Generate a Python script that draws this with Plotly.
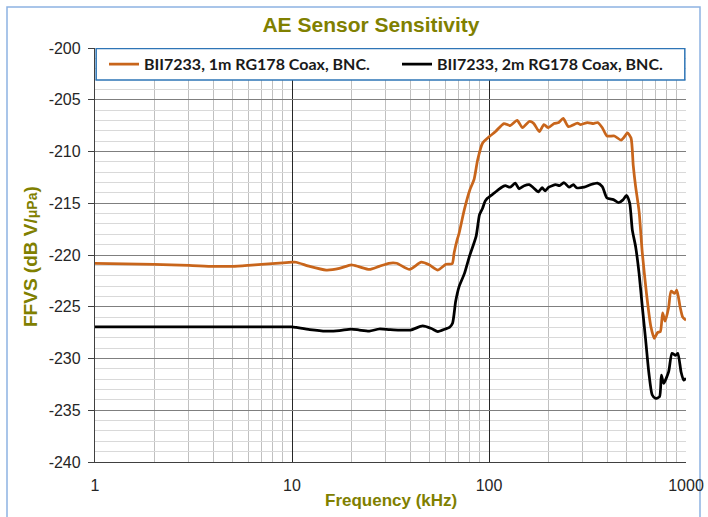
import plotly.graph_objects as go

# ---------------- data ----------------
series_names = ["BII7233, 1m RG178 Coax, BNC.", "BII7233, 2m RG178 Coax, BNC."]

freq_1m = [1, 2, 3, 4, 5, 6, 7, 9, 10, 10.5,
           12.3, 14.9, 17.4, 20, 22, 24.7, 27.7, 31, 34, 39.5,
           45.3, 49.7, 55, 60.5, 65, 66.5, 69, 70.5, 75, 80,
           84, 87.6, 92.7, 100.5, 108, 119, 128, 139, 148, 160,
           168, 180, 190, 200, 214, 226, 238, 253, 281, 292,
           316, 339, 356, 376, 397, 433, 468, 486, 505, 526,
           540, 555, 578, 600, 630, 663, 690, 717, 741, 761,
           783, 816, 840, 876, 898, 933, 962, 1000]
ffvs_1m = [-220.8, -220.9, -221.0, -221.1, -221.1, -221.0, -220.9, -220.75, -220.7, -220.7,
           -221.1, -221.45, -221.3, -220.95, -221.15, -221.4, -221.1, -220.8, -220.8, -221.4,
           -220.7, -220.95, -221.45, -220.9, -220.85, -219.8, -218.5, -217.9, -215.6, -213.7,
           -212.7, -210.8, -209.2, -208.55, -208.07, -207.3, -207.5, -207.0, -207.7, -207.1,
           -207.25, -208.07, -207.4, -207.7, -207.3, -207.2, -206.8, -207.6, -207.25, -207.4,
           -207.2, -207.3, -207.2, -207.7, -208.5, -208.5, -208.9, -208.6, -208.2, -208.7,
           -211.4, -213.4, -215.8, -219.8, -223.7, -226.9, -228.05, -227.5, -227.4, -225.6,
           -226.4, -225.1, -223.5, -223.7, -223.4, -225.0, -226.0, -226.3]

freq_2m = [1, 5, 10, 10.5, 12.3, 14.9, 17.4, 20, 22, 24.7,
           27.7, 31, 35, 40, 46, 51, 55, 60, 63, 65.3,
           67.7, 70.5, 75, 79.5, 86, 89.5, 92.7, 95.6, 98.4, 106.6,
           115, 121, 128, 136, 142, 151, 160, 168, 178, 186,
           193, 201, 218, 228, 240, 255, 268, 278, 304, 328,
           355, 376, 397, 428, 455, 477, 500, 518, 534, 555,
           578, 600, 624, 648, 673, 700, 734, 750, 770, 816,
           849, 885, 909, 944, 973, 1000]
ffvs_2m = [-226.95, -226.95, -226.95, -227.0, -227.2, -227.35, -227.3, -227.15, -227.25, -227.35,
           -227.15, -227.2, -227.25, -227.25, -226.85, -227.1, -227.4, -227.15, -227.0, -226.6,
           -224.5, -223.05, -221.8, -220.15, -218.2, -216.1, -215.5, -214.8, -214.5, -214.0,
           -213.5, -213.3, -213.45, -213.05, -213.6, -213.3, -213.2, -213.5, -213.9, -213.5,
           -213.8, -213.45, -213.2, -213.3, -213.0, -213.45, -213.2, -213.5, -213.45, -213.2,
           -213.05, -213.4, -214.5, -214.65, -214.95, -214.7, -214.25, -215.0, -217.6, -219.2,
           -221.8, -225.0, -228.2, -231.4, -233.5, -233.85, -233.7, -231.6, -232.4, -231.3,
           -229.5, -229.7, -229.5, -231.3, -232.1, -231.9]

x_tick_vals = [1, 10, 100, 1000]
x_tick_text = ["1", "10", "100", "1000"]
x_minor_vals = [m * 10 ** d for d in range(3) for m in range(2, 10)]
y_tick_vals = [-240, -235, -230, -225, -220, -215, -210, -205, -200]
y_tick_text = ["-240", "-235", "-230", "-225", "-220", "-215", "-210", "-205", "-200"]

# ---------------- styling ----------------
OLIVE = "#808000"
ORANGE = "#C8651B"
TICK_FONT = dict(family="Liberation Sans, Arial, sans-serif", size=16, color="#262626")
LEG_FONT = dict(family="Lato, sans-serif", size=16, color="#1a1a1a", weight="bold")

fig = go.Figure()
fig.add_trace(go.Scatter(x=freq_1m, y=ffvs_1m, mode="lines", name=series_names[0],
                         line=dict(color=ORANGE, width=2.75, shape="spline", smoothing=0.6)))
fig.add_trace(go.Scatter(x=freq_2m, y=ffvs_2m, mode="lines", name=series_names[1],
                         line=dict(color="#000000", width=2.75, shape="spline", smoothing=0.6)))

fig.update_layout(
    width=708, height=517,
    margin=dict(l=95, r=22, t=48, b=55, autoexpand=False),
    paper_bgcolor="white", plot_bgcolor="white",
    title=dict(text="<b>AE Sensor Sensitivity</b>", x=0.524, xanchor="center",
               y=1 - 25 / 517, yanchor="middle",
               font=dict(family="Liberation Sans, Arial, sans-serif", size=21, color=OLIVE)),
    showlegend=True,
    legend=dict(orientation="h", x=(104 - 95) / 591, xanchor="left",
                y=0.961, yanchor="middle", entrywidth=248, entrywidthmode="pixels",
                bgcolor="rgba(0,0,0,0)", borderwidth=0, font=LEG_FONT),
    xaxis=dict(type="log", range=[0, 3], tickmode="array", tickvals=x_tick_vals, ticktext=x_tick_text,
               automargin=False,
               showgrid=True, gridcolor="#262626", gridwidth=1,
               minor=dict(tickmode="array", tickvals=x_minor_vals, showgrid=True,
                          gridcolor="#c0c0c0", gridwidth=1),
               showline=True, linecolor="#404040", linewidth=1.25,
               ticks="", ticklabelstandoff=9, tickfont=TICK_FONT, zeroline=False),
    yaxis=dict(range=[-240, -200], tickmode="array", tickvals=y_tick_vals, ticktext=y_tick_text,
               automargin=False,
               showgrid=True, gridcolor="#7f7f7f", gridwidth=1,
               minor=dict(dtick=1, showgrid=True, gridcolor="#d9d9d9", gridwidth=1),
               showline=True, linecolor="#404040", linewidth=1.25,
               ticks="outside", ticklen=6, tickcolor="#404040", tickfont=TICK_FONT,
               ticklabelstandoff=4, zeroline=False),
    annotations=[
        dict(text="<b>Frequency (kHz)</b>", xref="paper", yref="paper",
             x=(391 - 95) / 591, y=(462 - 500) / 414, xanchor="center", yanchor="middle",
             showarrow=False, font=dict(family="Liberation Sans, Arial, sans-serif", size=17, color=OLIVE)),
        dict(text="<b>FFVS (dB V/<span style='font-size:14px'>μPa</span>)</b>", xref="paper", yref="paper",
             x=(30 - 95) / 591, y=(462 - 257) / 414, xanchor="center", yanchor="middle",
             textangle=-90, showarrow=False,
             font=dict(family="Liberation Sans, Arial, sans-serif", size=19, color=OLIVE)),
    ],
    shapes=[
        # legend box inside the plot area
        dict(type="rect", xref="paper", yref="y", x0=0.002, x1=0.998, y0=-203.1, y1=-200.05,
             fillcolor="white", line=dict(color="#2E75B6", width=1.5), layer="above"),
        # outer chart frame
        dict(type="rect", xref="paper", yref="paper", x0=(7 - 95) / 591, x1=(700 - 95) / 591,
             y0=-0.3, y1=(462 - 7) / 414, fillcolor="rgba(0,0,0,0)",
             line=dict(color="#8DB3E2", width=1.5), layer="below"),
    ],
)

fig.write_html("out.html", config={"displayModeBar": False},
               post_script="document.body.style.margin='0';")
